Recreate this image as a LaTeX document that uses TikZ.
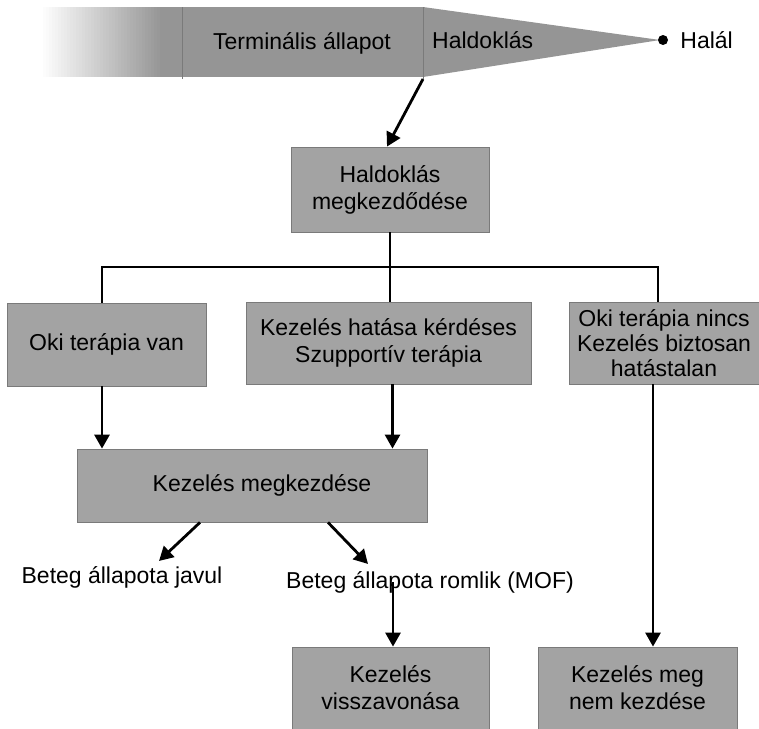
\documentclass[tikz,border=0pt]{standalone}
\usepackage{fontspec}
\setmainfont{Liberation Sans}
\usetikzlibrary{arrows.meta, positioning}
\definecolor{boxgray}{HTML}{A3A3A3}
\definecolor{bargray}{HTML}{959595}
\definecolor{edgegray}{HTML}{7A7A7A}

\begin{document}
\begin{tikzpicture}[x=1pt, y=-1pt,
  gbox/.style={rectangle, fill=boxgray, draw=edgegray, line width=0.8pt, inner sep=0pt,
    align=center, font=\fontsize{23}{27}\selectfont},
  glabel/.style={inner sep=0pt, font=\fontsize{23}{27}\selectfont},
  gline/.style={line width=2.8pt},
  ->/.style={-{Triangle[length=14pt, width=15pt]}, line width=2.8pt}]
  \useasboundingbox (0,0) rectangle (759,728);
  \foreach \k [evaluate=\k as \pct using 2.5*\k] in {0,...,40}
    \fill[bargray!\pct!white] (40+3*\k,7) rectangle (43.5+3*\k,77);
  \fill[bargray] (160,7) rectangle (423,77);
  \fill[bargray] (423,7) -- (660,40) -- (423,77) -- cycle;
  \draw[edgegray, line width=0.8pt] (182,7) -- (182,79);
  \draw[edgegray, line width=0.8pt] (423,7) -- (423,79);
  \node[glabel] (term) at (302,43) {Terminális állapot};
  \node[glabel, anchor=west] (hald) at (432,40) {Haldoklás};
  \node[circle, fill=black, inner sep=0pt, minimum size=10pt] (halal) at (663,40) {};
  \node[glabel] (halaltxt) [right = 12pt of halal] {Halál};
  \coordinate (barend) at (423,79);
  \node[gbox, minimum width=198pt, minimum height=85pt] (megk) at (390,189.5) {Haldoklás\\megkezdődése};
  \node[gbox, minimum width=199pt, minimum height=83pt] (oki) at (106.5,344.5) {Oki terápia van};
  \node[gbox, minimum width=285pt, minimum height=82pt] (kerd) at (388.5,343) {Kezelés hatása kérdéses\\Szupportív terápia};
  \node[gbox, minimum width=190pt, minimum height=82pt, font=\fontsize{23}{25}\selectfont] (nincs) at (664,343) {Oki terápia nincs\\Kezelés biztosan\\hatástalan};
  \node[gbox, minimum width=350pt, minimum height=73pt] (kezd) at (252,485.5) {\hspace*{20pt}Kezelés megkezdése};
  \node[glabel] (javul) at (122,577) {Beteg állapota javul};
  \node[glabel] (romlik) at (430,582) {Beteg állapota romlik (MOF)};
  \node[gbox, minimum width=197pt, minimum height=82pt] (vissza) at (390.5,688) {Kezelés\\visszavonása};
  \node[gbox, minimum width=199pt, minimum height=82pt] (nem) at (637.5,688) {Kezelés meg\\nem kezdése};
  \coordinate (split) at (390,267);
  \draw[->] (barend) -- ([xshift=-3pt]megk.north);
  \draw[gline] (megk.south) -- (split);
  \draw[gline] ([xshift=-4.5pt]oki.north) |- (split) -| ([xshift=-6pt]nincs.north);
  \draw[gline] (split) -- (kerd.north -| split);
  \draw[->] ([xshift=-4.5pt]oki.south) -- ([xshift=-4.5pt]oki.south |- kezd.north);
  \draw[->] ([xshift=4pt]kerd.south) -- ([xshift=4pt]kerd.south |- kezd.north);
  \draw[->] ([xshift=-11pt]nincs.south) -- ([xshift=-11pt]nincs.south |- nem.north);
  \draw[->] ([xshift=-52pt]kezd.south) -- ([xshift=37pt, yshift=5pt]javul.north);
  \draw[->] ([xshift=76pt]kezd.south) -- ([xshift=-62pt, yshift=7pt]romlik.north);
  \draw[->] ([xshift=-37pt]romlik.center) -- ([xshift=-37pt]romlik.center |- vissza.north);
\end{tikzpicture}
\end{document}
